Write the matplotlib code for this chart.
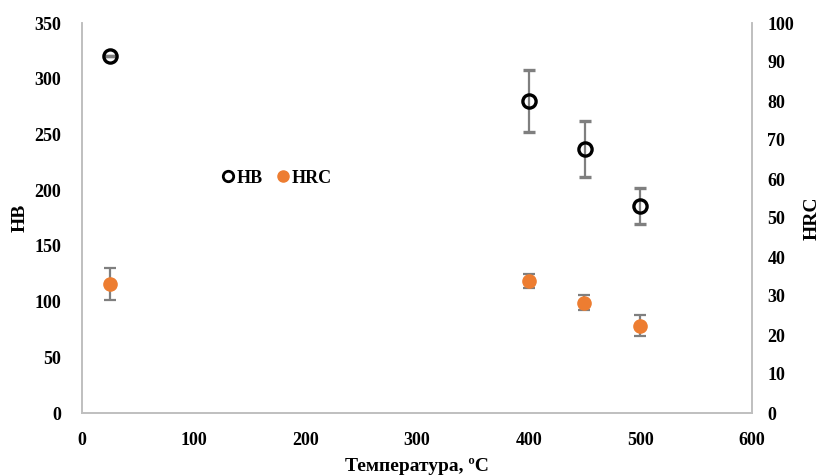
import matplotlib
matplotlib.use("Agg")
import matplotlib.pyplot as plt
from matplotlib.lines import Line2D

plt.rcParams['font.family'] = ['Liberation Serif', 'DejaVu Serif']
plt.rcParams['font.weight'] = 'bold'

temp = [25, 400, 450, 500]
hb = [320, 280, 237, 186]
hb_err = [0, 28, 25.5, 16]
hrc = [33.1, 33.8, 28.3, 22.4]
hrc_err = [4.1, 1.8, 2.0, 2.7]

x_ticks = [0, 100, 200, 300, 400, 500, 600]
hb_ticks = [0, 50, 100, 150, 200, 250, 300, 350]
hrc_ticks = [0, 10, 20, 30, 40, 50, 60, 70, 80, 90, 100]

fig = plt.figure(figsize=(8.23, 4.75), dpi=100)
ax = fig.add_axes([82/823, 1-413/475, (752-82)/823, (413-23)/475])
ax2 = ax.twinx()

orange = '#ED7D31'
errc = '#7f7f7f'

ax.errorbar(temp, hb, yerr=hb_err, fmt='o', mfc='none', mec='black', mew=2.4,
            ms=9.5, ecolor=errc, elinewidth=1.6, capsize=4, capthick=1.6, zorder=3)
ax2.errorbar(temp, hrc, yerr=hrc_err, fmt='o', mfc=orange, mec=orange,
             ms=9.5, ecolor=errc, elinewidth=1.6, capsize=4, capthick=1.6, zorder=3)

ax.set_xlim(0, 600)
ax.set_ylim(0, 350)
ax2.set_ylim(0, 100)
ax.set_xticks(x_ticks)
ax.set_yticks(hb_ticks)
ax2.set_yticks(hrc_ticks)

for a in (ax, ax2):
    for s in a.spines.values():
        s.set_color('#bfbfbf')
        s.set_linewidth(1.2)
    a.spines['top'].set_visible(False)
    a.tick_params(length=0, labelsize=13)
    for lab in a.get_xticklabels() + a.get_yticklabels():
        lab.set_fontweight('bold')
ax.tick_params(axis='x', pad=14)
ax.tick_params(axis='y', pad=15)
ax2.tick_params(axis='y', pad=11)

ax.set_xlabel('Температура, ºС', fontsize=14, fontweight='bold', labelpad=6)
ax.set_ylabel('HB', fontsize=14, fontweight='bold', labelpad=4)
ax2.set_ylabel('HRC', fontsize=14, fontweight='bold', labelpad=7)

handles = [Line2D([], [], marker='o', ls='none', mfc='none', mec='black', mew=2, ms=7.5),
           Line2D([], [], marker='o', ls='none', mfc=orange, mec=orange, ms=8)]
leg = ax.legend(handles, ['HB', 'HRC'], loc='center', bbox_to_anchor=(0.287, 0.602),
                ncol=2, frameon=False, fontsize=13, handletextpad=-0.1,
                columnspacing=0.5, handlelength=1.2)
for t in leg.get_texts():
    t.set_fontweight('bold')

fig.savefig('out.png', dpi=100)
